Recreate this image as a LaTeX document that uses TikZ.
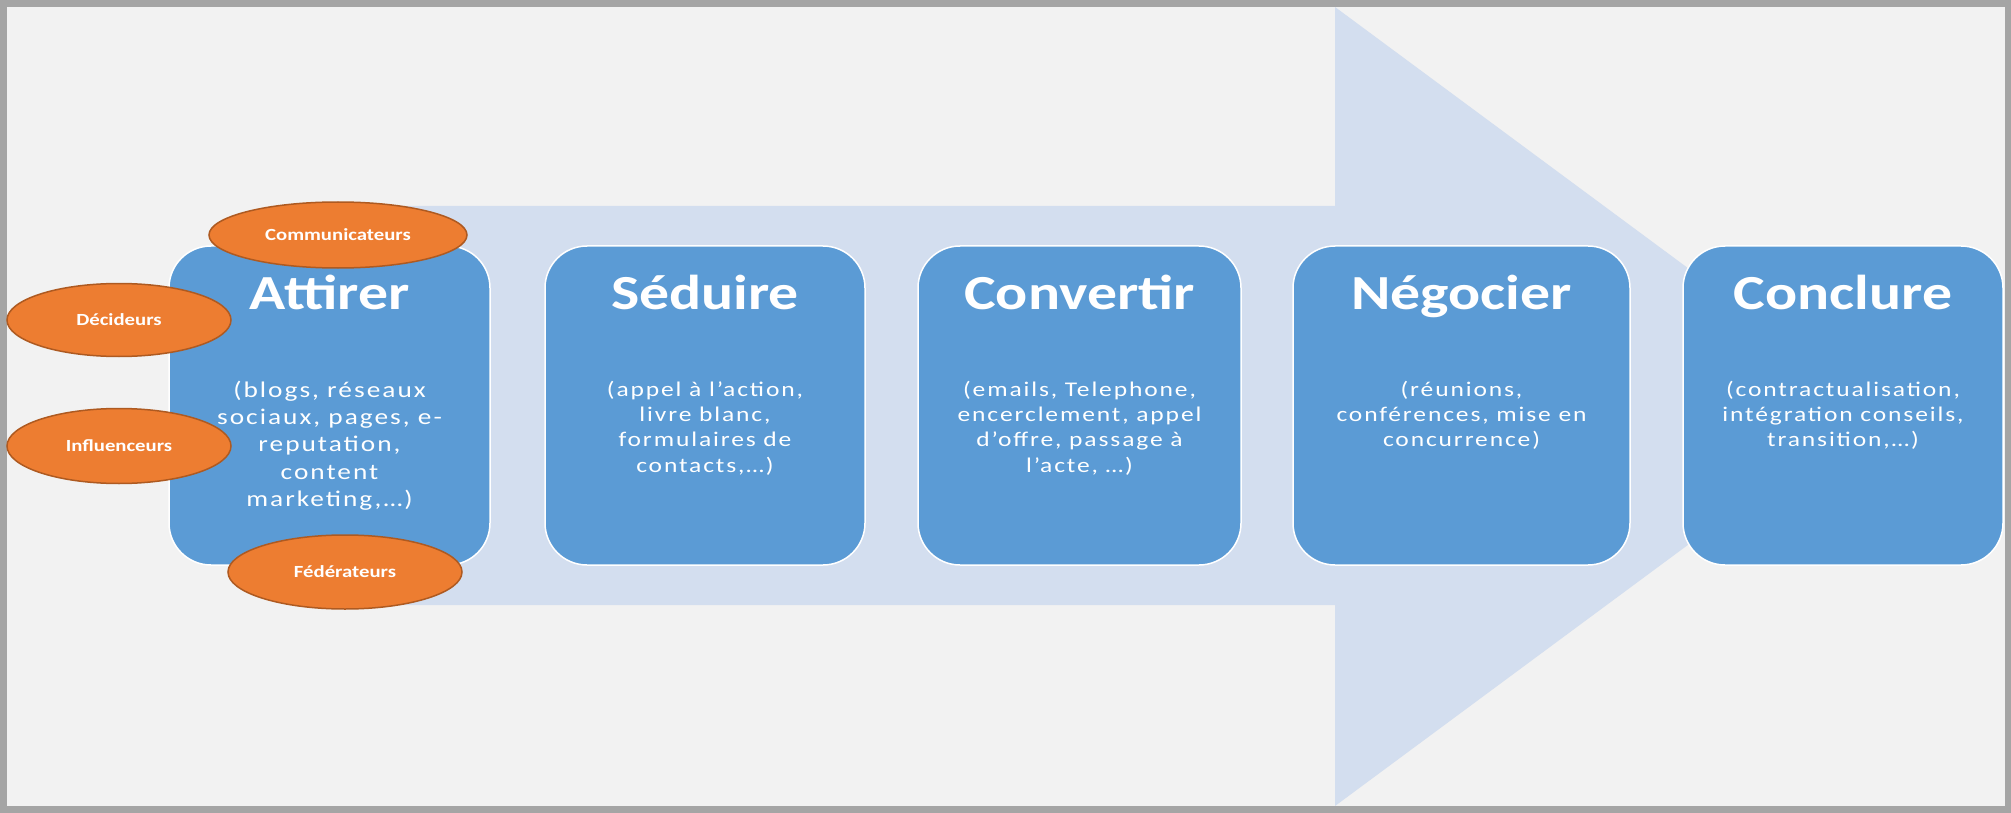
\documentclass[tikz,border=0pt]{standalone}
\usepackage{fontspec}
\setmainfont{Carlito}[FakeStretch=1.22]
\newfontfamily\bodyfont{Carlito}[FakeStretch=1.22,LetterSpace=9]
\usetikzlibrary{calc,shapes.geometric}
\definecolor{framegray}{HTML}{A5A5A5}
\definecolor{bgcol}{HTML}{F2F2F2}
\definecolor{arrowblue}{HTML}{D3DEEF}
\definecolor{boxblue}{HTML}{5B9BD5}
\definecolor{orangefill}{HTML}{ED7D31}
\definecolor{orangeline}{HTML}{AE5A21}
\newcommand{\bodylines}[1]{\begin{tabular}[t]{@{}c@{}}#1\end{tabular}}
\begin{document}
\begin{tikzpicture}[x=1pt,y=-1pt,
  stage/.style={draw=white, line width=1.5pt, fill=boxblue, rounded corners=42pt,
    minimum height=319pt, inner sep=0pt},
  stagetitle/.style={anchor=base, text=white, inner sep=0pt,
    font=\bfseries\fontsize{49}{59}\selectfont},
  stagebody/.style={anchor=base, text=white, inner sep=0pt,
    font=\bodyfont\fontsize{20.9}{25.3}\selectfont},
  role/.style={ellipse, draw=orangeline, line width=1.5pt, fill=orangefill,
    text=white, inner sep=0pt, font=\bfseries\fontsize{17}{20}\selectfont},
]
\useasboundingbox (0,0) rectangle (2011,813);
\fill[framegray] (0,0) rectangle (2011,813);
\fill[bgcol] (7,7) rectangle (2005,806);
% big arrow
\fill[arrowblue] (340,206) -- (1335,206) -- (1335,7) -- (1875,406.5)
  -- (1335,806) -- (1335,605) -- (340,605) -- cycle;
% stage boxes
\node[stage, minimum width=321pt] (attirer) at (329.5,405.5) {};
\node[stage, minimum width=320pt] (seduire) at (705,405.5) {};
\node[stage, minimum width=323pt] (convertir) at (1079.5,405.5) {};
\node[stage, minimum width=337pt] (negocier) at (1461.5,405.5) {};
\node[stage, minimum width=320pt] (conclure) at (1843,405.5) {};
% titles
\node[stagetitle] (t1) at ($(attirer.north)+(0,64)$) {Attirer};
\node[stagetitle] (t2) at ($(seduire.north)+(0,64)$) {Séduire};
\node[stagetitle] (t3) at ($(convertir.north)+(0,64)$) {Convertir};
\node[stagetitle] (t4) at ($(negocier.north)+(0,64)$) {Négocier};
\node[stagetitle] (t5) at ($(conclure.north)+(0,64)$) {Conclure};
% bodies
\node[stagebody, font=\bodyfont\fontsize{22.4}{27.3}\selectfont] (b1) at ($(attirer.north)+(0,152)$)
  {\bodylines{(blogs, réseaux\\sociaux, pages, e-\\reputation,\\content\\marketing,…)}};
\node[stagebody] (b2) at ($(seduire.north)+(0,151)$)
  {\bodylines{(appel à l’action,\\livre blanc,\\formulaires de\\contacts,…)}};
\node[stagebody] (b3) at ($(convertir.north)+(0,151)$)
  {\bodylines{(emails, Telephone,\\encerclement, appel\\d’offre, passage à\\l’acte, …)}};
\node[stagebody] (b4) at ($(negocier.north)+(0,151)$)
  {\bodylines{(réunions,\\conférences, mise en\\concurrence)}};
\node[stagebody] (b5) at ($(conclure.north)+(0,151)$)
  {\bodylines{(contractualisation,\\intégration conseils,\\transition,…)}};
% roles
\node[role, minimum width=258pt, minimum height=66pt] (communicateurs) at (338,235) {Communicateurs};
\node[role, minimum width=224pt, minimum height=73pt] (decideurs) at (119,320) {Décideurs};
\node[role, minimum width=224pt, minimum height=75pt] (influenceurs) at (119,446) {Influenceurs};
\node[role, minimum width=234pt, minimum height=74pt] (federateurs) at (345,572) {Fédérateurs};
\end{tikzpicture}
\end{document}
